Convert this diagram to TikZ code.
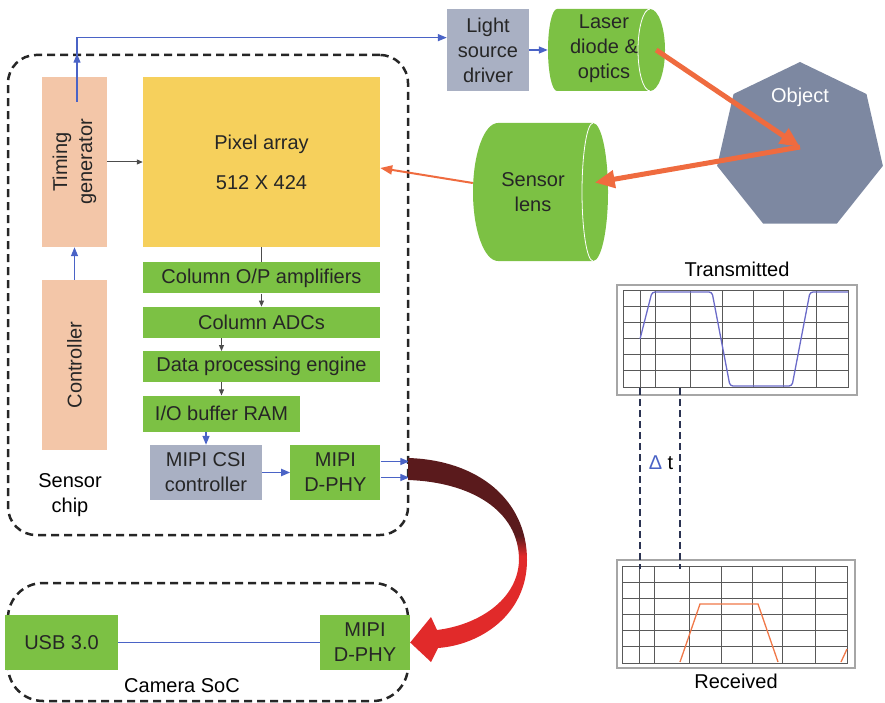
\documentclass[tikz,border=0pt]{standalone}
\usepackage{fontspec}
\setmainfont{Liberation Sans}
\usetikzlibrary{shapes.geometric, arrows.meta, positioning, calc}

\definecolor{boxgreen}{HTML}{7CC144}
\definecolor{pixyellow}{HTML}{F6D05C}
\definecolor{peach}{HTML}{F3C6A8}
\definecolor{slate}{HTML}{A9B0C3}
\definecolor{objgray}{HTML}{7D88A1}
\definecolor{beamorange}{HTML}{EF6B3F}
\definecolor{flowblue}{HTML}{4A63C6}
\definecolor{navy}{HTML}{2B3352}
\definecolor{txwave}{HTML}{6B6BC9}
\definecolor{rxwave}{HTML}{F07848}
\definecolor{ribbondark}{HTML}{5A1A1C}
\definecolor{ribbonred}{HTML}{E12A2A}

\pgfdeclareverticalshading{ribbon}{100bp}{color(0bp)=(ribbonred); color(51bp)=(ribbonred);
  color(56bp)=(ribbondark); color(100bp)=(ribbondark)}

\begin{document}
\begin{tikzpicture}[x=1pt, y=-1pt,
    font=\fontsize{20}{25}\selectfont,
    box/.style={rectangle, fill=#1, inner sep=0pt, align=center, text=black!85},
    box/.default=boxgreen,
    optic/.style={rectangle, inner sep=0pt, align=center, text=black!85},
    chipframe/.style={draw=black!85, line width=2.5pt, dash pattern=on 8pt off 5pt,
      rounded corners=28pt, inner sep=0pt},
    arr/.style={-{Triangle[length=9pt,width=7pt]}, line width=1.4pt, draw=#1},
    arr/.default=flowblue,
    step arr/.style={-{Triangle[length=6pt,width=5pt]}, line width=1pt, draw=black!70},
    beam/.style={-{Triangle[length=20pt,width=17pt]}, line width=5pt, draw=beamorange},
    rim/.style={draw=white, line width=0.8pt},
    gridline/.style={draw=black!65, line width=0.9pt},
    scopebox/.style={draw=black!35, line width=1.5pt, inner sep=0pt},
    dtline/.style={draw=navy, line width=2.5pt, dash pattern=on 7pt off 4pt},
  ]
  \useasboundingbox (0,0) rectangle (885,703);

  %% sensor chip
  \node[chipframe, minimum width=400pt, minimum height=480pt] (chip) at (208,295) {};
  \node[box=peach, rotate=90, minimum width=170pt, minimum height=65pt] (tg) at (74.5,162) {Timing\\generator};
  \node[box=peach, rotate=90, minimum width=170pt, minimum height=65pt] (ctrl) at (74.5,365) {Controller};
  \node[box=pixyellow, minimum width=237pt, minimum height=170pt] (pix) at (261.5,162) {Pixel array\\[15pt]512 X 424};
  \node[box, minimum width=237pt, minimum height=31pt, below=15pt of pix] (amp) {Column O/P amplifiers};
  \node[box, minimum width=237pt, minimum height=31pt, below=13pt of amp] (adc) {Column ADCs};
  \node[box, minimum width=237pt, minimum height=31pt, below=13pt of adc] (dpe) {Data processing engine};
  \node[box, minimum width=157pt, minimum height=36pt, below=13pt of dpe.south west, anchor=north west] (iobuf) {I/O buffer RAM};
  \node[box=slate, minimum width=112pt, minimum height=55pt] (csi) at (206,472.5) {MIPI CSI\\controller};
  \node[box, minimum width=90pt, minimum height=55pt, right=28pt of csi] (dphy) {MIPI\\D-PHY};
  \node[align=center] (chiplabel) at (70,495) {Sensor\\chip};

  %% illumination and optics
  \node[box=slate, minimum width=82pt, minimum height=82pt] (lsd) at (488,50) {Light\\source\\driver};
  % laser barrel: left bulge 9, end cap rx 15
  \fill[boxgreen] (557,9) -- (650,9) arc[start angle=-90, end angle=90, x radius=15, y radius=41]
    -- (557,91) arc[start angle=90, end angle=270, x radius=9, y radius=41] -- cycle;
  \draw[rim] (650,9) arc[start angle=-90, end angle=-270, x radius=12, y radius=41];
  \node[optic, minimum width=117pt, minimum height=82pt] (laser) at (606.5,50) {};
  \node[align=center, text=black!85] (lasertext) at (604,49) {Laser\\diode \&\\optics};
  % receive lens barrel: left bulge 25, end cap rx 15
  \fill[boxgreen] (498,123) -- (593,123) arc[start angle=-90, end angle=90, x radius=15, y radius=69]
    -- (498,261) arc[start angle=90, end angle=270, x radius=25, y radius=69] -- cycle;
  \draw[rim] (593,123) arc[start angle=-90, end angle=-270, x radius=11, y radius=69];
  \node[optic, minimum width=135pt, minimum height=138pt] (lens) at (540.5,192) {};
  \node[align=center, text=black!85] (lenstext) at (533,192) {Sensor\\lens};
  \node[regular polygon, regular polygon sides=7, minimum size=170pt, inner sep=0pt,
        fill=objgray] (object) at (800,147) {};
  \node[text=white] (objname) at ($(object.center)+(0,-50)$) {Object};

  %% camera SoC
  \node[chipframe, rounded corners=35pt, minimum width=400pt, minimum height=118pt] (soc) at (208,642) {};
  \node[box, minimum width=113pt, minimum height=55pt] (usb) at (61.5,642.5) {USB 3.0};
  \node[box, minimum width=90pt, minimum height=55pt] (camdphy) at (365,642.5) {MIPI\\D-PHY};
  \node (soclabel) at (182,686) {Camera SoC};

  %% signal chain
  \coordinate (tgtap) at (77,102);
  \draw[arr] (tgtap) -- (tgtap |- chip.north);
  \draw[arr] (tgtap) |- ($(lsd.north west)!0.35!(lsd.south west)$);
  \draw[arr] (ctrl) -- (tg);
  \draw[step arr] (tg) -- (pix);
  \draw[step arr, -] (pix.south) -- (amp.north);
  \draw[step arr] (amp) -- (adc);
  \draw[step arr] (adc.south -| iobuf) -- (dpe.north -| iobuf);
  \draw[step arr] (dpe.south -| iobuf) -- (iobuf);
  \draw[arr] (iobuf.south -| csi) -- (csi);
  \draw[arr, line width=1.8pt] (csi) -- (dphy);
  \draw[arr] ([yshift=11pt]dphy.east) -- ([yshift=11pt]dphy.east -| chip.east);
  \draw[arr] ([yshift=-5pt]dphy.east) -- ([yshift=-5pt]dphy.east -| chip.east);
  \draw[arr] (lsd) -- (laser);
  \draw[flowblue, line width=1.4pt] (usb) -- (camdphy);

  %% light path
  \draw[beam] ([xshift=-9pt]laser.east) -- (object.center);
  \draw[beam, shorten >=55pt] (object.center) -- (lens.center);
  \draw[beam, line width=2pt, -{Triangle[length=12pt,width=9pt]}] ([yshift=9pt]lens.west) -- ([yshift=-6pt]pix.east);

  %% MIPI link ribbon
  \shade[shading=ribbon] (408,458)
    .. controls (478,460) and (527,500) .. (527,560)
    .. controls (527,615) and (480,645) .. (438,648)
    -- (431,662) -- (camdphy.east) -- (431,617) -- (437,630)
    .. controls (478,625) and (518,600) .. (519,560)
    .. controls (519,510) and (470,482) .. (408,480) -- cycle;

  %% scope traces
  \node[scopebox, minimum width=240pt, minimum height=110pt] (txscope) at (737,340) {};
  \node[scopebox, minimum width=238pt, minimum height=108pt] (rxscope) at (736,614) {};
  \node[above=4pt of txscope] (txlabel) {Transmitted};
  \node[below=2pt of rxscope] (rxlabel) {Received};
  \foreach \sx/\sy in {623/290, 622/566} {
    \draw[gridline] (\sx,\sy) rectangle ++(225,97);
    \foreach \gx in {17,32,67,99,130,160,193}
      \draw[gridline] (\sx+\gx,\sy) -- ++(0,97);
    \foreach \gy in {16,32,48,64,80}
      \draw[gridline] (\sx,\sy+\gy) -- ++(225,0);
  }
  \draw[txwave, line width=1.3pt, rounded corners=3pt] (640,339) -- (652,292) -- (712,292)
    -- (730,386) -- (792,386) -- (810,292) -- (848,292);
  \draw[rxwave, line width=1.3pt] (680,662) -- (700,604) -- (758,604) -- (778,662);
  \draw[rxwave, line width=1.3pt] (841,662) -- (847,649);

  %% time of flight
  \coordinate (txa) at (640,388);
  \coordinate (rxa) at (640,569);
  \coordinate (txb) at (680,388);
  \coordinate (rxb) at (680,569);
  \draw[dtline] (txa) -- (rxa);
  \draw[dtline] (txb) -- (rxb);
  \node (dt) at (661,463) {\textcolor{flowblue}{Δ} t};
\end{tikzpicture}
\end{document}
